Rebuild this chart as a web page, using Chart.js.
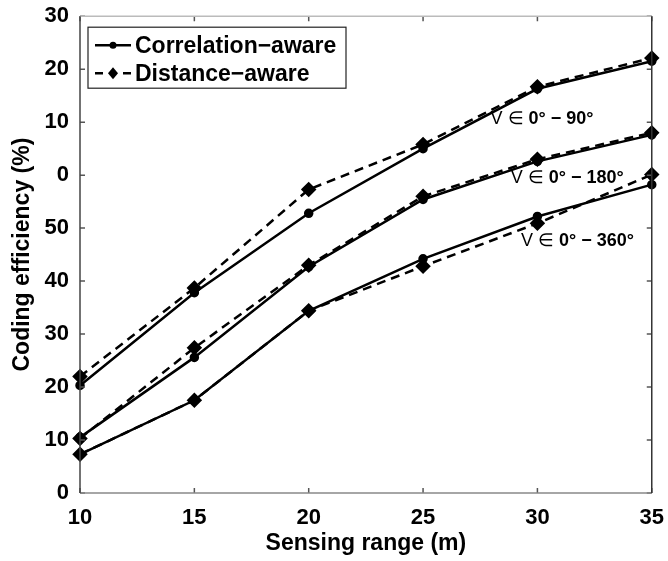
<!DOCTYPE html>
<html>
<head>
<meta charset="utf-8">
<script src="https://cdn.jsdelivr.net/npm/chart.js"></script>
<style>
html, body { margin: 0; padding: 0; background: #fff; }
</style>
</head>
<body>
<canvas id="grafico" width="668" height="561"></canvas>
<script>
// eixo x: alcance de sensoriamento (m)
const alcance = ['10', '15', '20', '25', '30', '35']
// rotulos do eixo y como aparecem na figura
const rotulosY = ['0', '10', '20', '30', '40', '50', '0', '10', '20', '30']

// V em 0-90
const corr90 = [20.3, 37.8, 52.8, 65.0, 76.3, 81.5]
const dist90 = [22.0, 38.7, 57.3, 65.8, 76.7, 82.1]
// V em 0-180
const corr180 = [10.5, 25.6, 42.7, 55.4, 62.6, 67.6]
const dist180 = [10.3, 27.4, 43.0, 56.0, 63.0, 68.0]
// V em 0-360
const corr360 = [7.3, 17.5, 34.4, 44.2, 52.2, 58.2]
const dist360 = [7.3, 17.5, 34.4, 42.8, 50.9, 60.1]

const nomes = ['Correlation\u2212aware', 'Distance\u2212aware']
const faixas = ['0\u00b0 \u2212 90\u00b0', '0\u00b0 \u2212 180\u00b0', '0\u00b0 \u2212 360\u00b0']

const fonte = "'Liberation Sans', Arial, sans-serif"

// posicao das anotacoes (indice no eixo x, valor no eixo y)
const notas = [
    { texto: faixas[0], x: 4.04, y: 70.5 },
    { texto: faixas[1], x: 4.26, y: 59.4 },
    { texto: faixas[2], x: 4.35, y: 47.5 },
]

function serieCorr(label, dados) {
    return {
        label: label,
        data: dados,
        borderColor: '#000',
        backgroundColor: '#000',
        borderWidth: 2.5,
        pointStyle: 'circle',
        pointRadius: 3.5,
        tension: 0,
    }
}

function serieDist(label, dados) {
    return {
        label: label,
        data: dados,
        borderColor: '#000',
        backgroundColor: '#000',
        borderWidth: 2.5,
        borderDash: [9, 6],
        pointStyle: 'rectRot',
        pointRadius: 6,
        tension: 0,
    }
}

const moldura = {
    id: 'moldura',
    afterDraw(chart) {
        const ctx = chart.ctx
        const a = chart.chartArea
        const sx = chart.scales.x, sy = chart.scales.y
        ctx.save()
        ctx.lineWidth = 1.5
        // ticks para dentro
        ctx.strokeStyle = '#555'
        ctx.beginPath()
        sx.ticks.forEach((t, i) => {
            const px = sx.getPixelForTick(i)
            ctx.moveTo(px, a.bottom); ctx.lineTo(px, a.bottom - 5)
            ctx.moveTo(px, a.top); ctx.lineTo(px, a.top + 5)
        })
        sy.ticks.forEach((t, i) => {
            const py = sy.getPixelForTick(i)
            ctx.moveTo(a.left, py); ctx.lineTo(a.left + 5, py)
            ctx.moveTo(a.right, py); ctx.lineTo(a.right - 5, py)
        })
        ctx.stroke()
        // caixa
        const lado = (cor, x1, y1, x2, y2) => {
            ctx.strokeStyle = cor
            ctx.beginPath(); ctx.moveTo(x1, y1); ctx.lineTo(x2, y2); ctx.stroke()
        }
        lado('#bbb', a.left, a.top, a.right, a.top)
        lado('#888', a.left, a.bottom, a.right, a.bottom)
        lado('#444', a.left, a.top, a.left, a.bottom)
        lado('#333', a.right, a.top, a.right, a.bottom)
        ctx.restore()
    },
    afterDatasetsDraw(chart) {
        const ctx = chart.ctx
        const a = chart.chartArea
        ctx.save()
        // legenda
        const bx = a.left + 8, by = a.top + 11, bw = 258, bh = 61
        ctx.fillStyle = '#fff'
        ctx.fillRect(bx, by, bw, bh)
        ctx.strokeStyle = '#222'
        ctx.lineWidth = 1.2
        ctx.strokeRect(bx, by, bw, bh)
        const linhas = [by + 18, by + 46]
        ctx.strokeStyle = '#000'
        ctx.fillStyle = '#000'
        ctx.lineWidth = 2.5
        // linha solida + circulo
        ctx.beginPath(); ctx.moveTo(bx + 7, linhas[0]); ctx.lineTo(bx + 43, linhas[0]); ctx.stroke()
        ctx.beginPath(); ctx.arc(bx + 25, linhas[0], 3.5, 0, Math.PI * 2); ctx.fill()
        // tracejada + losango
        ctx.beginPath()
        ctx.moveTo(bx + 7, linhas[1]); ctx.lineTo(bx + 15, linhas[1])
        ctx.moveTo(bx + 35, linhas[1]); ctx.lineTo(bx + 43, linhas[1])
        ctx.stroke()
        ctx.beginPath()
        ctx.moveTo(bx + 25, linhas[1] - 6); ctx.lineTo(bx + 30, linhas[1])
        ctx.lineTo(bx + 25, linhas[1] + 6); ctx.lineTo(bx + 20, linhas[1])
        ctx.closePath(); ctx.fill()
        ctx.font = 'bold 23px ' + fonte
        ctx.textBaseline = 'middle'
        ctx.textAlign = 'left'
        ctx.fillText(nomes[0], bx + 47, linhas[0] + 1)
        ctx.fillText(nomes[1], bx + 47, linhas[1] + 1)

        // anotacoes das faixas
        const sx = chart.scales.x, sy = chart.scales.y
        notas.forEach(n => {
            const cx = sx.getPixelForValue(n.x)
            const cy = sy.getPixelForValue(n.y)
            const pre = 'V \u2208 '
            ctx.font = '18px ' + fonte
            const w1 = ctx.measureText(pre).width
            ctx.font = 'bold 18px ' + fonte
            const w2 = ctx.measureText(n.texto).width
            const x0 = cx - (w1 + w2) / 2
            ctx.font = '18px ' + fonte
            ctx.fillText(pre, x0, cy)
            ctx.font = 'bold 18px ' + fonte
            ctx.fillText(n.texto, x0 + w1, cy)
        })
        ctx.restore()
    }
}

const config = {
    type: 'line',
    data: {
        labels: alcance,
        datasets: [
            serieCorr(nomes[0], corr90),
            serieDist(nomes[1], dist90),
            serieCorr(nomes[0], corr180),
            serieDist(nomes[1], dist180),
            serieCorr(nomes[0], corr360),
            serieDist(nomes[1], dist360),
        ]
    },
    options: {
        responsive: false,
        animation: false,
        devicePixelRatio: 1,
        layout: { padding: { top: 14, right: 13, left: 0, bottom: 0 } },
        plugins: {
            legend: { display: false },
            tooltip: { enabled: false },
        },
        scales: {
            x: {
                offset: false,
                grid: { display: false },
                border: { display: false },
                ticks: {
                    color: '#000',
                    font: { family: fonte, size: 22, weight: 'bold' },
                    padding: 4,
                    maxRotation: 0,
                    autoSkip: false,
                },
                title: {
                    display: true,
                    text: 'Sensing range (m)',
                    color: '#000',
                    font: { family: fonte, size: 23, weight: 'bold' },
                    padding: { top: 0, bottom: 4 },
                },
                afterFit: s => { s.height = 68 },
            },
            y: {
                min: 0,
                max: 90,
                grid: { display: false },
                border: { display: false },
                ticks: {
                    stepSize: 10,
                    color: '#000',
                    font: { family: fonte, size: 22, weight: 'bold' },
                    padding: 3,
                    callback: (v, i) => rotulosY[i],
                },
                title: {
                    display: true,
                    text: 'Coding efficiency (%)',
                    color: '#000',
                    font: { family: fonte, size: 23, weight: 'bold' },
                    padding: { top: 9, bottom: 0 },
                },
                afterFit: s => { s.width = 80 },
            }
        }
    },
    plugins: [moldura]
}

const graficoGeral = new Chart(document.querySelector('#grafico'), config)
</script>
</body>
</html>
